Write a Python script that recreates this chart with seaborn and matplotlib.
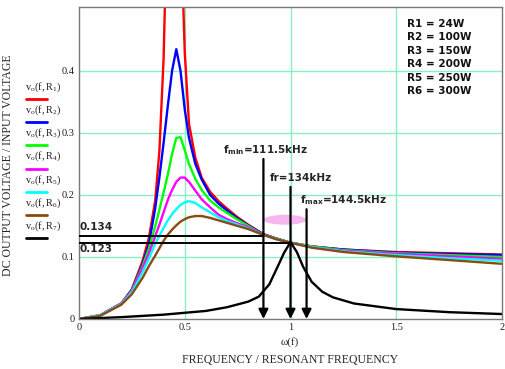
import matplotlib
matplotlib.use("Agg")
import matplotlib.pyplot as plt
import seaborn as sns
from matplotlib.lines import Line2D
from matplotlib.patches import Ellipse

# ---------------- data ----------------
x_norm = [0, 0.1, 0.2, 0.25, 0.3, 0.33, 0.36, 0.38, 0.4, 0.42, 0.44, 0.46, 0.48,
          0.5, 0.52, 0.55, 0.58, 0.62, 0.66, 0.7, 0.75, 0.8, 0.87, 0.93, 1.0,
          1.1, 1.25, 1.5, 1.75, 2.0]
vo_R1 = [0, 0.006, 0.025, 0.048, 0.093, 0.13, 0.19, 0.27, 0.42, 0.70, 1.0, 1.0, 0.65,
         0.43, 0.315, 0.26, 0.228, 0.205, 0.19, 0.178, 0.164, 0.152, 0.137, 0.130, 0.123,
         0.117, 0.112, 0.108, 0.106, 0.104]
vo_R2 = [0, 0.006, 0.025, 0.047, 0.088, 0.12, 0.178, 0.228, 0.284, 0.344, 0.40, 0.435, 0.40,
         0.338, 0.292, 0.25, 0.225, 0.2, 0.186, 0.175, 0.162, 0.151, 0.137, 0.130, 0.123,
         0.117, 0.112, 0.107, 0.105, 0.103]
vo_R3 = [0, 0.006, 0.025, 0.046, 0.085, 0.113, 0.149, 0.176, 0.204, 0.233, 0.266, 0.292, 0.293,
         0.272, 0.25, 0.226, 0.208, 0.191, 0.18, 0.171, 0.16, 0.15, 0.136, 0.13, 0.123,
         0.117, 0.111, 0.106, 0.103, 0.100]
vo_R4 = [0, 0.006, 0.025, 0.045, 0.082, 0.105, 0.133, 0.152, 0.172, 0.192, 0.208, 0.221, 0.228,
         0.228, 0.221, 0.207, 0.193, 0.18, 0.168, 0.161, 0.154, 0.148, 0.136, 0.129, 0.123,
         0.116, 0.110, 0.105, 0.101, 0.097]
vo_R5 = [0, 0.006, 0.024, 0.043, 0.075, 0.097, 0.121, 0.134, 0.147, 0.159, 0.169, 0.177, 0.184,
         0.188, 0.19, 0.187, 0.18, 0.172, 0.164, 0.158, 0.152, 0.146, 0.136, 0.129, 0.123,
         0.116, 0.109, 0.103, 0.098, 0.094]
vo_R6 = [0, 0.005, 0.023, 0.04, 0.066, 0.085, 0.102, 0.114, 0.126, 0.136, 0.144, 0.151, 0.157,
         0.161, 0.164, 0.166, 0.166, 0.163, 0.159, 0.155, 0.15, 0.145, 0.136, 0.129, 0.123,
         0.115, 0.108, 0.101, 0.095, 0.089]
x_R7 = [0, 0.2, 0.4, 0.5, 0.6, 0.7, 0.8, 0.85, 0.9, 0.94, 0.97, 1.0, 1.03, 1.06,
        1.1, 1.15, 1.2, 1.3, 1.5, 1.75, 2.0]
vo_R7 = [0, 0.003, 0.007, 0.010, 0.013, 0.019, 0.028, 0.036, 0.056, 0.085, 0.107, 0.124,
         0.108, 0.084, 0.06, 0.044, 0.035, 0.025, 0.016, 0.011, 0.008]

series_labels = ["1", "2", "3", "4", "5", "6", "7"]
series_colors = ["#ff0000", "#0000ff", "#00ff00", "#ff00ff", "#00ffff", "#8b4a12", "#000000"]

load_labels = ["R1 = 24W", "R2 = 100W", "R3 = 150W", "R4 = 200W", "R5 = 250W", "R6 = 300W"]

marker_x = [0.872, 1.0, 1.076]
marker_top = [0.258, 0.213, 0.177]
marker_text = [r"f$_{\mathbf{min}}$=111.5kHz", "fr=134kHz", r"f$_{\mathbf{max}}$=144.5kHz"]

level_values = [0.134, 0.123]
level_ends = [0.872, 1.0]
level_text = ["0.134", "0.123"]

x_ticks = [0, 0.5, 1, 1.5, 2]
x_ticklabels = ["0", "0.5", "1", "1.5", "2"]
y_ticks = [0, 0.1, 0.2, 0.3, 0.4]
y_ticklabels = ["0", "0.1", "0.2", "0.3", "0.4"]

# ---------------- styling ----------------
sns.set_theme(style="white")
plt.rcParams.update({
    "font.family": ["DejaVu Sans"],
    "mathtext.fontset": "custom",
    "mathtext.rm": "Liberation Serif",
    "mathtext.it": "Liberation Serif:italic",
    "mathtext.bf": "DejaVu Sans:bold",
})

W, H = 505, 369
fig = plt.figure(figsize=(W / 100, H / 100), dpi=100)
ax = fig.add_axes([79 / W, 1 - 319 / H, (502 - 79) / W, (319 - 7) / H])

grid_c = "#86f0c0"
for v in [0.5, 1.0, 1.5]:
    ax.axvline(v, color=grid_c, lw=1.0, zorder=0)
for v in [0.1, 0.2, 0.3, 0.4]:
    ax.axhline(v, color=grid_c, lw=1.0, zorder=0)

curves = [vo_R1, vo_R2, vo_R3, vo_R4, vo_R5, vo_R6]
for ys, c in zip(curves, series_colors[:6]):
    sns.lineplot(x=x_norm, y=ys, color=c, lw=1.7, ax=ax, sort=False,
                 estimator=None, legend=False)
sns.lineplot(x=x_R7, y=vo_R7, color=series_colors[6], lw=1.7, ax=ax, sort=False,
             estimator=None, legend=False)

# level lines
for val, xe in zip(level_values, level_ends):
    ax.plot([0, xe], [val, val], color="black", lw=1.4, zorder=5)
fig.text(80 / W, 1 - 227 / H, level_text[0], fontsize=7.5, fontweight="bold",
         ha="left", va="center")
fig.text(80 / W, 1 - 249 / H, level_text[1], fontsize=7.5, fontweight="bold",
         ha="left", va="center")

# arrows
for xm, yt in zip(marker_x, marker_top):
    ax.annotate("", xy=(xm, 0.0), xytext=(xm, yt),
                arrowprops=dict(arrowstyle="-|>", color="black", lw=1.6,
                                mutation_scale=14, shrinkA=0, shrinkB=0),
                zorder=6)
text_pos = [(223, 150), (270, 178), (300, 200)]
for (px, py), t in zip(text_pos, marker_text):
    fig.text(px / W, 1 - py / H, t, fontsize=7.5, fontweight="bold", ha="left", va="center")

# pink ellipse
ax.add_patch(Ellipse((0.974, 0.160), 0.203, 0.016, color="#f6b6ee", zorder=4, lw=0))

ax.set_xlim(0, 2)
ax.set_ylim(0, 0.503)
ax.set_xticks(x_ticks)
ax.set_xticklabels(x_ticklabels)
ax.set_yticks(y_ticks)
ax.set_yticklabels(y_ticklabels)
ax.tick_params(axis="both", length=2, width=1, color=grid_c, labelsize=7.5, pad=1.0,
               labelcolor="#202020")
for lab in ax.get_xticklabels() + ax.get_yticklabels():
    lab.set_fontfamily("Liberation Serif")
ax.set_xlabel("")
ax.set_ylabel("")
for s in ax.spines.values():
    s.set_color("#7a7a7a")
    s.set_linewidth(1.0)

# load list
for i, t in enumerate(load_labels):
    fig.text(407 / W, 1 - (24 + 13.4 * i) / H, t, fontsize=7.5, fontweight="bold",
             ha="left", va="center", color="#111111")

# Mathcad-style legend
for i, (lab, c) in enumerate(zip(series_labels, series_colors)):
    yt = 87 + 23.2 * i
    yl = 99 + 23.2 * i
    fig.text(25 / W, 1 - yt / H, r"$\mathrm{v_o(f,R_{%s})}$" % lab, fontsize=7.5,
             ha="left", va="center", color="#222222")
    fig.add_artist(Line2D([26 / W, 47 / W], [1 - yl / H, 1 - yl / H], color=c, lw=2.0))

# axis titles
fig.text(8 / W, 1 - 165 / H, "DC OUTPUT VOLTAGE / INPUT VOLTAGE", rotation=90,
         ha="center", va="center", fontsize=8.5, family="Liberation Serif")
fig.text(290 / W, 1 - 342 / H, "\u03c9(f)", ha="center", va="center", fontsize=8,
         family="Liberation Serif")
fig.text(290 / W, 1 - 360 / H, "FREQUENCY / RESONANT FREQUENCY", ha="center",
         va="center", fontsize=8.5, family="Liberation Serif")

fig.savefig("out.png", dpi=100)
